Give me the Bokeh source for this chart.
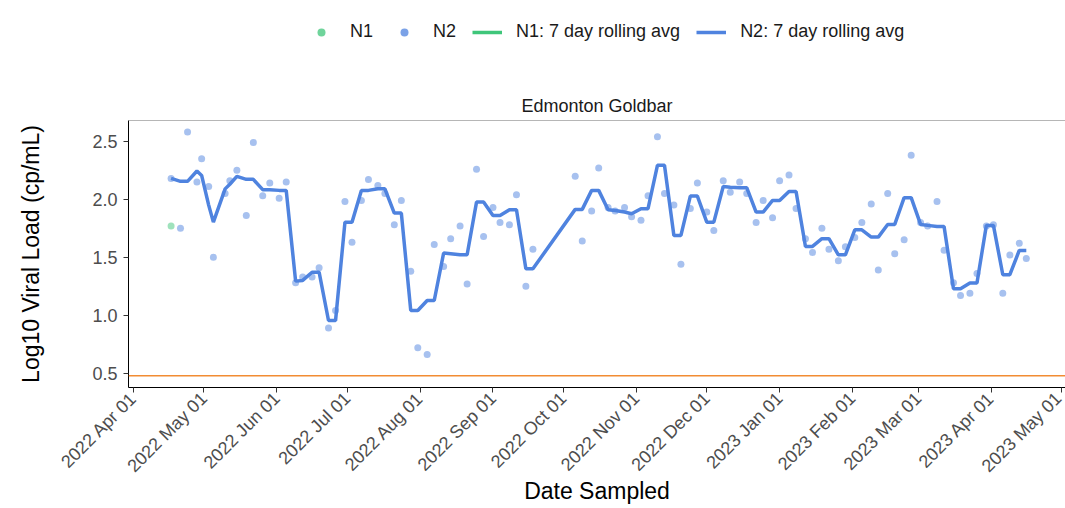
import math
import pandas as pd
from bokeh.plotting import figure
from bokeh.layouts import column
from bokeh.models import (ColumnDataSource, FixedTicker, Span, Legend,
                          LegendItem, Range1d)
from bokeh.embed import file_html
from bokeh.resources import INLINE

FONT = "Liberation Sans"
N1_COL = "#3fc67a"
N2_COL = "#4f83df"

# ---------------- data ----------------
n1_dates = ["2022-04-17"]
n1_values = [1.77]
n1_rolling = [1.77]

n2_dates = [
    "2022-04-17", "2022-04-21", "2022-04-24", "2022-04-28", "2022-04-30", "2022-05-03", "2022-05-05", "2022-05-10", "2022-05-12", "2022-05-15",
    "2022-05-19", "2022-05-22", "2022-05-26", "2022-05-29", "2022-06-02", "2022-06-05", "2022-06-09", "2022-06-12", "2022-06-16", "2022-06-19",
    "2022-06-23", "2022-06-26", "2022-06-30", "2022-07-03", "2022-07-07", "2022-07-10", "2022-07-14", "2022-07-17", "2022-07-21", "2022-07-24",
    "2022-07-28", "2022-07-31", "2022-08-04", "2022-08-07", "2022-08-11", "2022-08-14", "2022-08-18", "2022-08-21", "2022-08-25", "2022-08-28",
    "2022-09-01", "2022-09-04", "2022-09-08", "2022-09-11", "2022-09-15", "2022-09-18", "2022-10-06", "2022-10-09", "2022-10-13", "2022-10-16",
    "2022-10-20", "2022-10-23", "2022-10-27", "2022-10-30", "2022-11-03", "2022-11-06", "2022-11-10", "2022-11-13", "2022-11-17", "2022-11-20",
    "2022-11-24", "2022-11-27", "2022-12-01", "2022-12-04", "2022-12-08", "2022-12-11", "2022-12-15", "2022-12-18", "2022-12-22", "2022-12-25",
    "2022-12-29", "2023-01-01", "2023-01-05", "2023-01-08", "2023-01-12", "2023-01-15", "2023-01-19", "2023-01-22", "2023-01-26", "2023-01-29",
    "2023-02-02", "2023-02-05", "2023-02-09", "2023-02-12", "2023-02-16", "2023-02-19", "2023-02-23", "2023-02-26", "2023-03-02", "2023-03-05",
    "2023-03-09", "2023-03-12", "2023-03-16", "2023-03-19", "2023-03-23", "2023-03-26", "2023-03-30", "2023-04-02", "2023-04-06", "2023-04-09",
    "2023-04-13", "2023-04-16",
]
n2_values = [
    2.18, 1.75, 2.58, 2.15, 2.35, 2.11, 1.50, 2.05, 2.16, 2.25,
    1.86, 2.49, 2.03, 2.14, 2.01, 2.15, 1.28, 1.33, 1.33, 1.41,
    0.89, 1.04, 1.98, 1.63, 1.99, 2.17, 2.12, 2.05, 1.78, 1.99,
    1.38, 0.72, 0.66, 1.61, 1.42, 1.66, 1.77, 1.27, 2.26, 1.68,
    1.93, 1.80, 1.78, 2.04, 1.25, 1.57, 2.20, 1.64, 1.90, 2.27,
    1.93, 1.90, 1.93, 1.85, 1.82, 2.03, 2.54, 2.05, 1.95, 1.44,
    1.92, 2.14, 1.89, 1.73, 2.16, 2.06, 2.15, 2.05, 1.80, 1.99,
    1.84, 2.16, 2.21, 1.92, 1.66, 1.54, 1.75, 1.57, 1.47, 1.59,
    1.67, 1.80, 1.96, 1.39, 2.05, 1.53, 1.65, 2.38, 1.80, 1.77,
    1.98, 1.56, 1.28, 1.17, 1.19, 1.36, 1.77, 1.78, 1.19, 1.52,
    1.62, 1.49,
]
n2_rolling = [
    2.18, 2.155, 2.155, 2.244, 2.206, 1.95, 1.803, 2.09, 2.13, 2.198,
    2.172, 2.172, 2.083, 2.083, 2.077, 2.077, 1.294, 1.30, 1.371, 1.371,
    0.954, 0.954, 1.803, 1.803, 2.077, 2.077, 2.091, 2.091, 1.881, 1.881,
    1.041, 1.041, 1.127, 1.127, 1.536, 1.53, 1.521, 1.521, 1.976, 1.976,
    1.861, 1.861, 1.91, 1.91, 1.40, 1.40, 1.913, 1.913, 2.077, 2.077,
    1.91, 1.904, 1.89, 1.875, 1.919, 1.919, 2.293, 2.293, 1.688, 1.688,
    2.028, 2.028, 1.803, 1.803, 2.111, 2.105, 2.10, 2.10, 1.89, 1.89,
    1.99, 1.99, 2.068, 2.068, 1.593, 1.593, 1.66, 1.66, 1.521, 1.521,
    1.737, 1.737, 1.674, 1.674, 1.783, 1.783, 2.014, 2.014, 1.783, 1.775,
    1.766, 1.766, 1.228, 1.228, 1.277, 1.277, 1.775, 1.775, 1.349, 1.349,
    1.559, 1.559,
]

lod_value = 0.477  # log10(3) detection limit line

x_tick_dates = ["2022-04-01", "2022-05-01", "2022-06-01", "2022-07-01", "2022-08-01",
                "2022-09-01", "2022-10-01", "2022-11-01", "2022-12-01", "2023-01-01",
                "2023-02-01", "2023-03-01", "2023-04-01", "2023-05-01"]
x_tick_labels = ["2022 Apr 01", "2022 May 01", "2022 Jun 01", "2022 Jul 01", "2022 Aug 01",
                 "2022 Sep 01", "2022 Oct 01", "2022 Nov 01", "2022 Dec 01", "2023 Jan 01",
                 "2023 Feb 01", "2023 Mar 01", "2023 Apr 01", "2023 May 01"]
y_ticks = [0.5, 1.0, 1.5, 2.0, 2.5]
y_tick_labels = ["0.5", "1.0", "1.5", "2.0", "2.5"]


def to_ms(d):
    return int(pd.Timestamp(d).value // 10**6)


src_n1 = ColumnDataSource(dict(date=pd.to_datetime(n1_dates), value=n1_values, rolling=n1_rolling))
src_n2 = ColumnDataSource(dict(date=pd.to_datetime(n2_dates), value=n2_values, rolling=n2_rolling))

# ---------------- legend strip (separate small figure on top) ----------------
LEG_H = 62
leg = figure(width=1065, height=LEG_H, output_backend="svg", toolbar_location=None,
             x_range=Range1d(0, 1), y_range=Range1d(0, 1),
             x_axis_location=None, y_axis_location=None,
             min_border_left=0, min_border_right=0, min_border_top=0, min_border_bottom=0)
leg.grid.visible = False
leg.outline_line_color = None
leg.background_fill_color = "white"
leg.border_fill_color = "white"
# style-carrier renderers (their data lies outside this strip's ranges)
lg_n1 = leg.scatter("date", "value", source=src_n1, size=7, fill_color=N1_COL, fill_alpha=0.75, line_color=None)
lg_n2 = leg.scatter("date", "value", source=src_n2, size=7, fill_color=N2_COL, fill_alpha=0.75, line_color=None)
lg_l1 = leg.line("date", "rolling", source=src_n1, line_width=3.5, line_color=N1_COL)
lg_l2 = leg.line("date", "rolling", source=src_n2, line_width=3.5, line_color=N2_COL)
legend = Legend(items=[LegendItem(label="N1", renderers=[lg_n1]),
                       LegendItem(label="N2", renderers=[lg_n2]),
                       LegendItem(label="N1: 7 day rolling avg", renderers=[lg_l1]),
                       LegendItem(label="N2: 7 day rolling avg", renderers=[lg_l2])],
                location=(178, 20), orientation="horizontal",
                glyph_width=30, glyph_height=20, label_standoff=14, spacing=16,
                padding=0, margin=0, border_line_color=None, background_fill_alpha=0,
                label_text_font=FONT, label_text_font_size="18px", label_text_color="#1a1a1a")
leg.add_layout(legend)

# ---------------- main chart ----------------
p = figure(width=1065, height=508 - LEG_H, x_axis_type="datetime", output_backend="svg",
           toolbar_location=None,
           x_range=Range1d(pd.Timestamp("2022-03-29 20:56"), pd.Timestamp("2023-05-02 16:20")),
           y_range=Range1d(0.376, 2.68),
           min_border_left=128, min_border_right=0, min_border_top=120 - LEG_H, min_border_bottom=121,
           title="Edmonton Goldbar")

p.background_fill_color = "white"
p.border_fill_color = "white"
p.outline_line_color = None
p.xgrid.grid_line_color = None
p.ygrid.grid_line_color = None

# points then rolling-average lines
p.scatter("date", "value", source=src_n2, size=7, fill_color=N2_COL, fill_alpha=0.5, line_color=None)
p.scatter("date", "value", source=src_n1, size=7, fill_color=N1_COL, fill_alpha=0.5, line_color=None)
p.line("date", "rolling", source=src_n1, line_width=3.5, line_color=N1_COL)
p.line("date", "rolling", source=src_n2, line_width=3.5, line_color=N2_COL)

# reference lines
p.add_layout(Span(location=lod_value, dimension="width", line_color="#f28c33", line_width=1.5))
p.add_layout(Span(location=2.68, dimension="width", line_color="#6e6e6e", line_width=1))

# title
p.title.align = "center"
p.title.offset = 7
p.title.text_font = FONT
p.title.text_font_size = "18px"
p.title.text_font_style = "normal"
p.title.text_color = "#1a1a1a"

# axes
xa = p.xaxis[0]
ya = p.yaxis[0]
xa.ticker = FixedTicker(ticks=[to_ms(d) for d in x_tick_dates])
xa.major_label_overrides = {to_ms(d): lab for d, lab in zip(x_tick_dates, x_tick_labels)}
xa.major_label_orientation = math.pi / 4
xa.major_label_standoff = 3
ya.ticker = FixedTicker(ticks=y_ticks)
ya.major_label_overrides = {t: lab for t, lab in zip(y_ticks, y_tick_labels)}
ya.major_label_standoff = 6
for ax in (xa, ya):
    ax.axis_line_color = "black"
    ax.axis_line_width = 1
    ax.major_tick_line_color = "#333333"
    ax.major_tick_out = 5
    ax.major_tick_in = 0
    ax.minor_tick_line_color = None
    ax.major_label_text_font = FONT
    ax.major_label_text_font_size = "18px"
    ax.major_label_text_color = "#4d4d4d"
    ax.axis_label_text_font = FONT
    ax.axis_label_text_font_size = "23px"
    ax.axis_label_text_font_style = "normal"
    ax.axis_label_text_color = "black"

ya.axis_label = "Log10 Viral Load (cp/mL)"
ya.axis_label_standoff = 45
xa.axis_label = "Date Sampled"
xa.axis_label_standoff = -8

layout = column(leg, p, spacing=0)
open("out.html", "w").write(file_html(layout, INLINE))
